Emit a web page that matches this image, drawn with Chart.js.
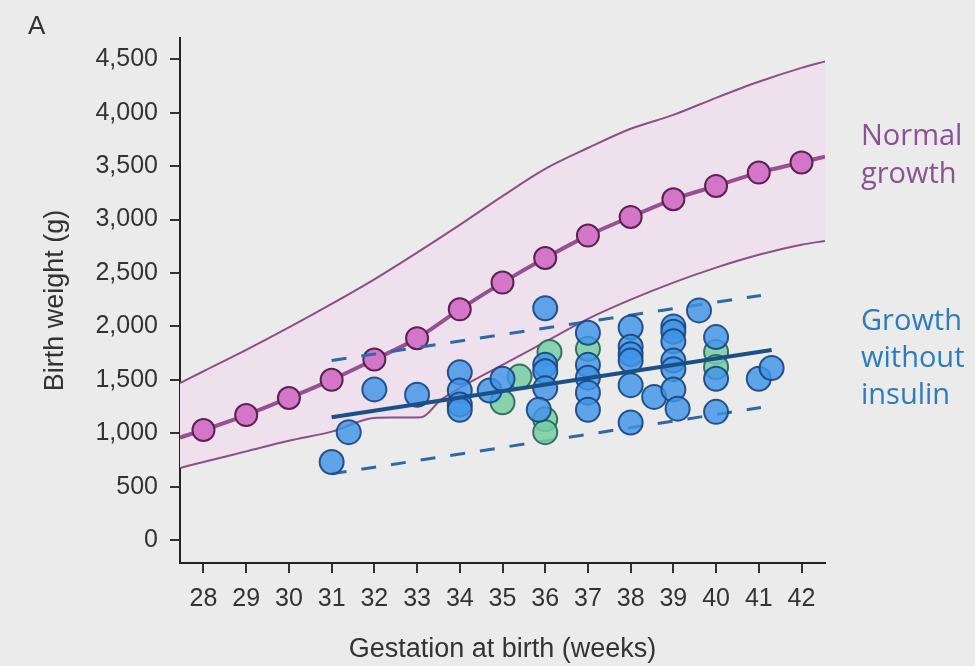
<!DOCTYPE html>
<html>
<head>
<meta charset="utf-8">
<script src="https://cdn.jsdelivr.net/npm/chart.js@4.4.1/dist/chart.umd.min.js"></script>
<style>
  html, body { margin: 0; padding: 0; background: #ebebeb; }
  #wrap { width: 975px; height: 666px; position: relative; }
</style>
</head>
<body>
<div id="wrap"><canvas id="growthChart"></canvas></div>
<script>
// axis ticks
const weekTicks = [28, 29, 30, 31, 32, 33, 34, 35, 36, 37, 38, 39, 40, 41, 42];
const weightTicks = [0, 500, 1000, 1500, 2000, 2500, 3000, 3500, 4000, 4500];

// normal growth (median curve with markers)
const normalWeeks = [28, 29, 30, 31, 32, 33, 34, 35, 36, 37, 38, 39, 40, 41, 42];
const normalWeight = [1030, 1170, 1330, 1500, 1690, 1890, 2160, 2410, 2640, 2850, 3025, 3190, 3315, 3440, 3535];
const normalLineStart = 960;
const normalLineEnd = 3590;

// normal growth band
const bandUpperWeeks = [27.45, 28, 29, 30, 31, 32, 33, 34, 35, 36, 37, 38, 39, 40, 41, 42, 42.55];
const bandUpper = [1470, 1580, 1780, 1990, 2210, 2440, 2690, 2950, 3220, 3475, 3670, 3850, 3980, 4140, 4290, 4420, 4480];
const bandLowerWeeks = [27.45, 28, 29, 30, 31, 32.05, 33.1, 33.55, 34.25, 35, 36, 37, 38, 39, 40, 41, 42, 42.55];
const bandLower = [675, 730, 830, 930, 1015, 1145, 1150, 1310, 1480, 1640, 1855, 2070, 2250, 2410, 2550, 2670, 2765, 2800];

// growth without insulin: fitted line and limits
const fitWeeks = [31, 41.3];
const fitWeight = [1150, 1780];
const limitWeeks = [31, 41.05];
const limitUpper = [1680, 2290];
const limitLower = [620, 1240];

// observed babies
const blueWeeks = [31, 31.4, 32, 33, 34, 34, 34, 34, 34.7, 35, 36, 36, 36, 36, 35.85,
  37, 37, 37, 37, 37, 38, 38, 38, 38, 38, 38, 38.55,
  39, 39, 39, 39, 39, 39, 39.1, 39.6, 40, 40, 40, 41, 41.3];
const blueWeight = [730, 1010, 1410, 1360, 1570, 1400, 1270, 1220, 1400, 1510, 2170, 1640, 1580, 1420, 1220,
  1940, 1640, 1520, 1380, 1220, 1990, 1810, 1740, 1680, 1450, 1100, 1340,
  2000, 1950, 1860, 1680, 1600, 1410, 1230, 2150, 1900, 1510, 1200, 1510, 1610];
const greenWeeks = [35, 35.4, 36.1, 36, 36, 37, 40, 40];
const greenWeight = [1290, 1530, 1760, 1130, 1010, 1790, 1760, 1620];

function toPoints(xs, ys) {
  return xs.map((x, i) => ({ x: x, y: ys[i] }));
}

const xMin = 27.45, xMax = 42.55;
const normalPoints = [{ x: xMin, y: normalLineStart }]
  .concat(toPoints(normalWeeks, normalWeight))
  .concat([{ x: xMax, y: normalLineEnd }]);

const tickFont = { family: "'Liberation Sans', Arial, sans-serif", size: 25 };
const titleFont = { family: "'Liberation Sans', Arial, sans-serif", size: 27 };

const backgroundPlugin = {
  id: 'background',
  beforeDraw(chart) {
    const ctx = chart.ctx;
    ctx.save();
    ctx.fillStyle = '#ebebeb';
    ctx.fillRect(0, 0, chart.width, chart.height);
    ctx.restore();
  }
};

const labelPlugin = {
  id: 'labels',
  afterDraw(chart) {
    const ctx = chart.ctx;
    ctx.save();
    ctx.textAlign = 'left';
    ctx.textBaseline = 'alphabetic';
    ctx.fillStyle = '#333';
    ctx.font = "26px 'Liberation Sans', Arial, sans-serif";
    ctx.fillText('A', 28, 34);
    ctx.font = "29px 'Open Sans', sans-serif";
    ctx.fillStyle = '#8c5096';
    ctx.fillText('Normal', 861, 145);
    ctx.fillText('growth', 861, 183);
    ctx.fillStyle = '#2c7bbf';
    ctx.fillText('Growth', 861, 330);
    ctx.fillText('without', 861, 367);
    ctx.fillText('insulin', 861, 404);
    ctx.restore();
  }
};

new Chart(document.getElementById('growthChart'), {
  type: 'scatter',
  data: {
    datasets: [
      {
        label: 'Band upper',
        data: toPoints(bandUpperWeeks, bandUpper),
        showLine: true,
        borderColor: '#8f4d89',
        borderWidth: 2,
        pointRadius: 0,
        cubicInterpolationMode: 'monotone',
        fill: '+1',
        backgroundColor: '#eee1ed',
        order: 10
      },
      {
        label: 'Band lower',
        data: toPoints(bandLowerWeeks, bandLower),
        showLine: true,
        borderColor: '#8f4d89',
        borderWidth: 2,
        pointRadius: 0,
        cubicInterpolationMode: 'monotone',
        fill: false,
        order: 9
      },
      {
        label: 'Normal growth',
        data: normalPoints,
        showLine: true,
        borderColor: '#9a4f93',
        borderWidth: 4,
        cubicInterpolationMode: 'monotone',
        pointRadius: ctx => (ctx.dataIndex === 0 || ctx.dataIndex === normalPoints.length - 1) ? 0 : 11,
        pointBackgroundColor: '#d476c8',
        pointBorderColor: '#5a2354',
        pointBorderWidth: 2,
        order: 8
      },
      {
        label: 'Upper limit',
        data: toPoints(limitWeeks, limitUpper),
        showLine: true,
        borderColor: '#2f68a6',
        borderWidth: 3,
        borderDash: [15, 15],
        pointRadius: 0,
        order: 7
      },
      {
        label: 'Lower limit',
        data: toPoints(limitWeeks, limitLower),
        showLine: true,
        borderColor: '#2f68a6',
        borderWidth: 3,
        borderDash: [15, 15],
        pointRadius: 0,
        order: 6
      },
      {
        label: 'Green',
        data: toPoints(greenWeeks, greenWeight),
        pointRadius: 12,
        pointBackgroundColor: 'rgba(120, 206, 164, 0.85)',
        pointBorderColor: 'rgba(40, 100, 90, 0.9)',
        pointBorderWidth: 2,
        order: 5
      },
      {
        label: 'Blue',
        data: toPoints(blueWeeks, blueWeight),
        pointRadius: 12,
        pointBackgroundColor: 'rgba(64, 148, 230, 0.82)',
        pointBorderColor: 'rgba(24, 68, 125, 0.9)',
        pointBorderWidth: 2,
        order: 4
      },
      {
        label: 'Fit',
        data: toPoints(fitWeeks, fitWeight),
        showLine: true,
        borderColor: '#1d4f87',
        borderWidth: 4,
        pointRadius: 0,
        order: 3
      }
    ]
  },
  options: {
    responsive: true,
    maintainAspectRatio: false,
    animation: false,
    layout: { padding: { left: 0, top: 38, right: 150, bottom: 0 } },
    plugins: {
      legend: { display: false },
      tooltip: { enabled: false }
    },
    scales: {
      x: {
        type: 'linear',
        min: xMin,
        max: xMax,
        afterBuildTicks: scale => { scale.ticks = weekTicks.map(v => ({ value: v })); },
        afterFit: scale => { scale.height = 103; },
        border: { display: true, color: '#222', width: 2 },
        grid: { drawOnChartArea: false, drawTicks: true, tickLength: 10, color: '#333', lineWidth: 2 },
        ticks: { font: tickFont, color: '#333', padding: 11, maxRotation: 0, autoSkip: false },
        title: {
          display: true,
          text: 'Gestation at birth (weeks)',
          font: titleFont,
          color: '#333',
          padding: { top: 0, bottom: 0 }
        }
      },
      y: {
        type: 'linear',
        min: -215,
        max: 4700,
        afterBuildTicks: scale => { scale.ticks = weightTicks.map(v => ({ value: v })); },
        afterFit: scale => { scale.width = 180; },
        border: { display: true, color: '#222', width: 2 },
        grid: { drawOnChartArea: false, drawTicks: true, tickLength: 10, color: '#333', lineWidth: 2 },
        ticks: {
          font: tickFont,
          color: '#333',
          padding: 12,
          callback: v => v.toLocaleString('en-US')
        },
        title: {
          display: true,
          text: 'Birth weight (g)',
          font: titleFont,
          color: '#333',
          padding: { top: 39, bottom: 0 }
        }
      }
    }
  },
  plugins: [backgroundPlugin, labelPlugin]
});
</script>
</body>
</html>
